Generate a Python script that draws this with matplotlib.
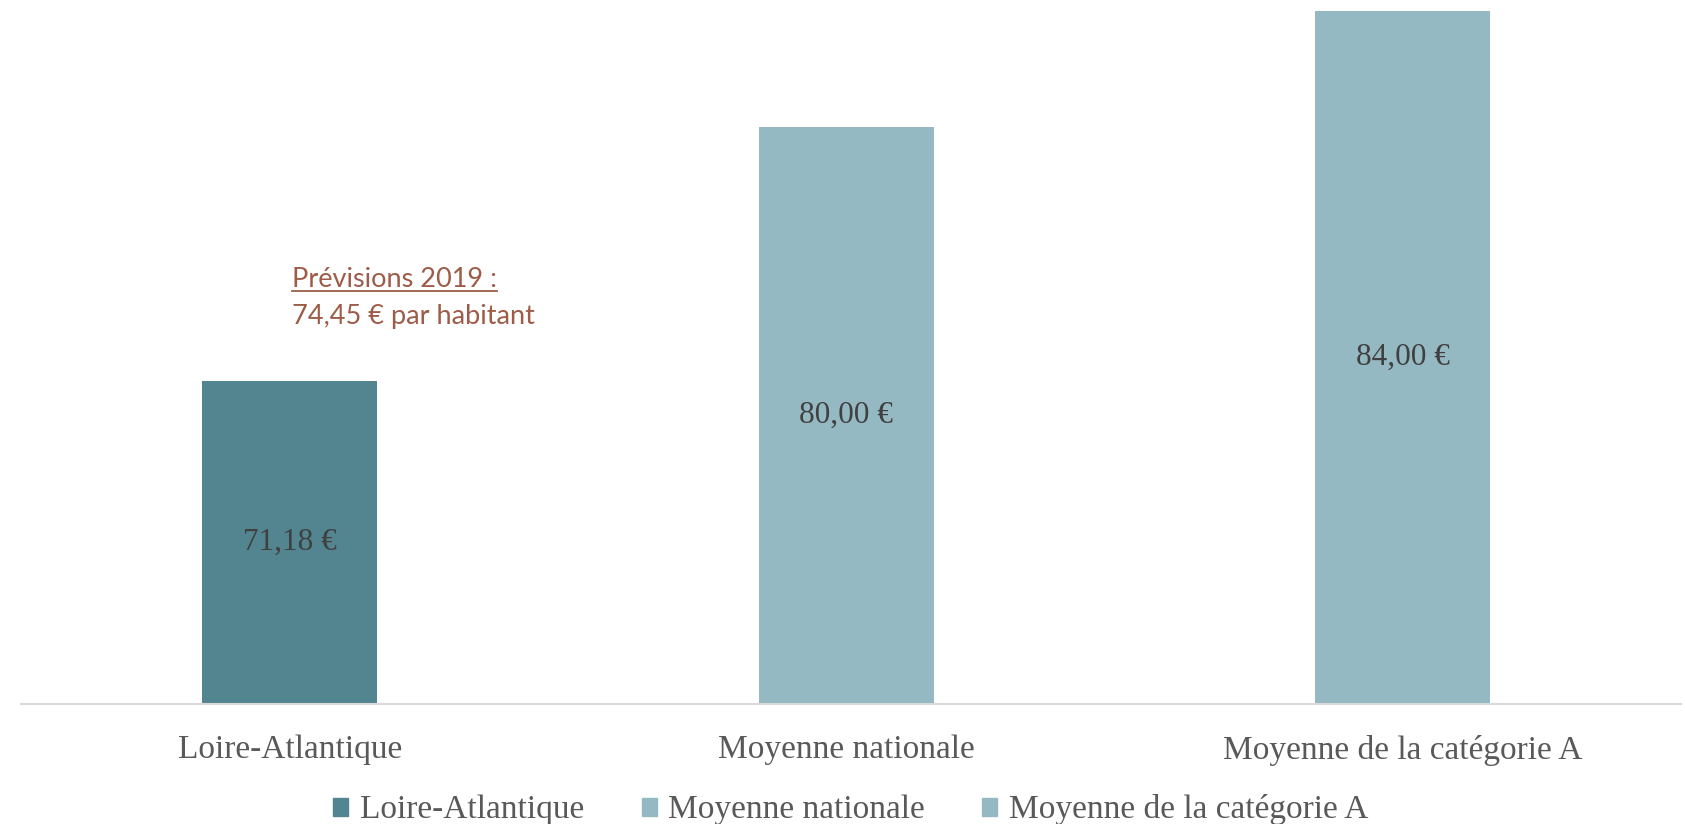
import matplotlib.pyplot as plt
from matplotlib.lines import Line2D
from matplotlib.patches import Patch

# data
categories = ['Loire-Atlantique', 'Moyenne nationale', 'Moyenne de la catégorie A']
values = [71.18, 80.00, 84.00]
value_labels = ['71,18 €', '80,00 €', '84,00 €']
note_title = 'Prévisions 2019 :'
note_text = '74,45 € par habitant'

dark = '#528590'
light = '#95B9C2'
colors = [dark, light, light]

serif = ['Liberation Serif', 'DejaVu Serif']

fig = plt.figure(figsize=(16.85, 8.24), dpi=100)
ax = fig.add_axes([0.0068, 0.1456, 0.9908, 0.8544])

x = range(len(categories))
bars = ax.bar(x, values, width=0.314, color=colors, bottom=0)
ax.set_ylim(60, 84.39)
ax.set_xlim(-0.5, 2.5)

ax.bar_label(bars, labels=value_labels, label_type='center',
             fontsize=22.5, color='#404040', family=serif)

ax.set_xticks(list(x))
ax.set_xticklabels(categories, fontsize=24, color='#595959', family=serif)
ax.tick_params(axis='x', length=0, pad=22)
ax.set_yticks([])
for s in ['top', 'left', 'right']:
    ax.spines[s].set_visible(False)
ax.spines['bottom'].set_color('#D9D9D9')
ax.spines['bottom'].set_linewidth(1.5)
ax.spines['bottom'].set_bounds(-0.483, 2.5)

# annotation with underlined first line
t1 = ax.text(0.004, 74.7, note_title, fontsize=19.5, color='#9E5C48',
             family=['Lato', 'DejaVu Sans'], ha='left', va='center')
ax.text(0.004, 73.42, note_text, fontsize=19.5, color='#9E5C48',
        family=['Lato', 'DejaVu Sans'], ha='left', va='center')

handles = [Patch(color=dark, label=categories[0]),
           Patch(color=light, label=categories[1]),
           Patch(color=light, label=categories[2])]
leg = fig.legend(handles=handles, loc='center', bbox_to_anchor=(0.505, 0.017),
                 ncol=3, frameon=False, prop={'family': serif, 'size': 24},
                 handlelength=0.45, handleheight=0.45, handletextpad=0.35,
                 columnspacing=1.72)
for t in leg.get_texts():
    t.set_color('#595959')

fig.canvas.draw()
bb = t1.get_window_extent().transformed(fig.transFigure.inverted())
fig.add_artist(Line2D([bb.x0, bb.x1], [bb.y0 + 0.002, bb.y0 + 0.002],
                      transform=fig.transFigure, color='#9E5C48', lw=1.3))

fig.savefig('out.png', dpi=100)
